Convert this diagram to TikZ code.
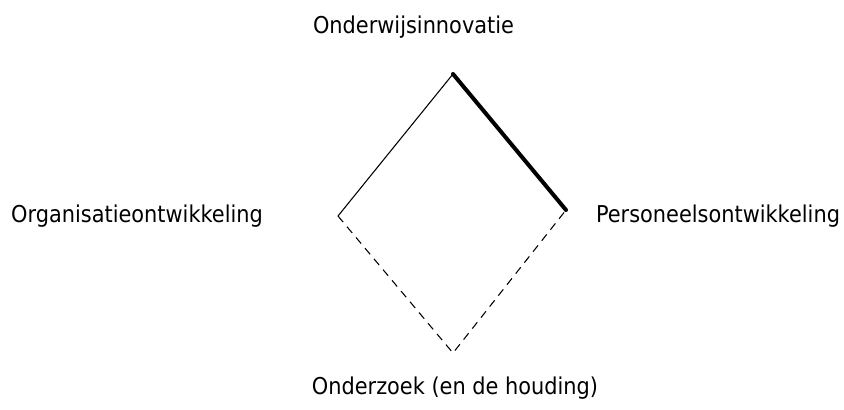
\documentclass[tikz,border=0pt]{standalone}
\usepackage{fontspec}
\setmainfont{DejaVu Sans}[FakeStretch=0.9]
\usetikzlibrary{positioning}

\tikzset{
  label/.style={inner sep=0pt, font=\fontsize{17.4}{20}\selectfont},
  side/.style={line width=0.8pt},
  strong/.style={line width=3pt},
  weak/.style={line width=0.8pt, dash pattern=on 6pt off 4.5pt}
}

\begin{document}
\begin{tikzpicture}[x=0.75pt, y=-0.75pt]
  % page
  \useasboundingbox (0,0) rectangle (844,410);

  % corners of the diamond
  \coordinate (top) at (453,74);
  \coordinate (left) at (338,216);
  \coordinate (right) at (566,210);
  \coordinate (bottom) at (453,353);

  % the four edges
  \draw[side] (left) -- (top);
  \draw[strong, line cap=round] (top) -- (right);
  \draw[weak] (left) -- (bottom) -- (right);

  % labels
  \node[label] (innov) at (413.5,27) {Onderwijsinnovatie};
  \node[label] (org) at (137,216) {Organisatieontwikkeling};
  \node[label] (pers) at (718,216) {Personeelsontwikkeling};
  \node[label] (onderz) at (455,388) {Onderzoek (en de houding)};
\end{tikzpicture}
\end{document}
